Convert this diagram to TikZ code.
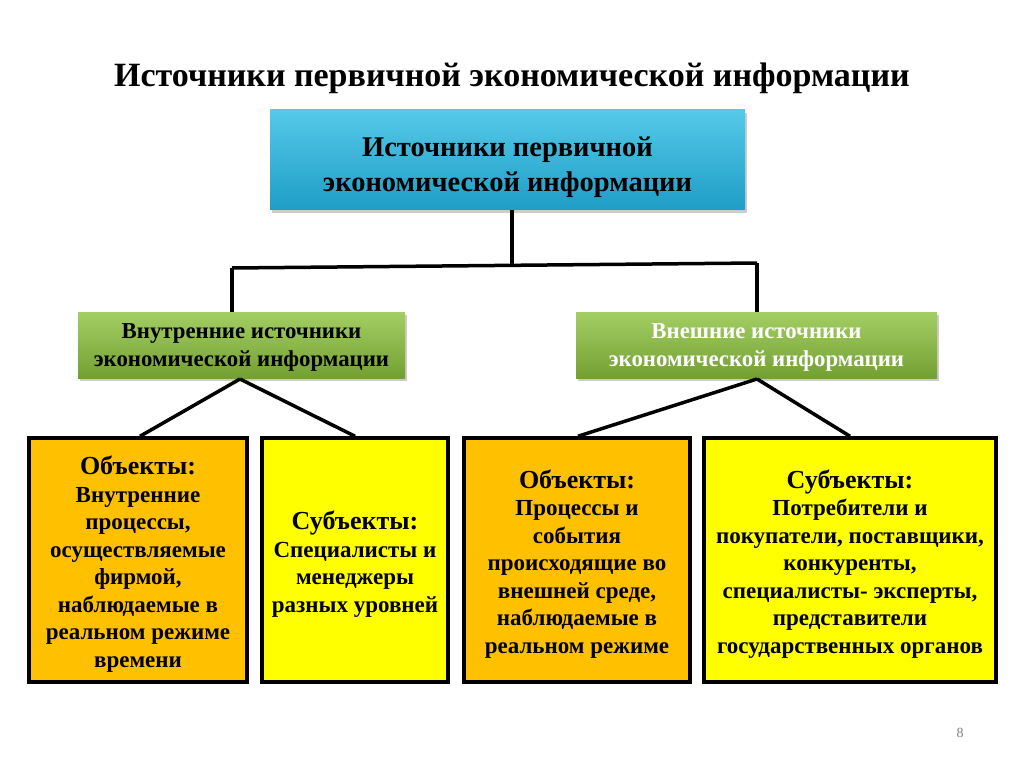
\documentclass[tikz,border=0pt]{standalone}
\usepackage{fontspec}
\setmainfont{Liberation Serif}
\usetikzlibrary{shadows}
\definecolor{bluetop}{HTML}{55C9E9}
\definecolor{bluebot}{HTML}{1E9DC6}
\definecolor{greentop}{HTML}{A3CE63}
\definecolor{greenbot}{HTML}{74A033}
\definecolor{orangefill}{HTML}{FFC000}
\definecolor{yellowfill}{HTML}{FFFF00}
\newcommand\boxhead{\fontsize{26}{27.5}\selectfont}
\begin{document}
\begin{tikzpicture}[x=1pt,y=-1pt,
  topbox/.style={draw=none,top color=bluetop,bottom color=bluebot,drop shadow={shadow xshift=2pt,shadow yshift=-3pt,opacity=0.4},inner sep=0pt},
  toptext/.style={yshift=-7pt,font=\bfseries\fontsize{28.5}{35}\selectfont,align=center,inner sep=0pt},
  greenbox/.style={draw=none,top color=greentop,bottom color=greenbot,drop shadow={shadow xshift=2pt,shadow yshift=-3pt,opacity=0.4},inner sep=0pt},
  greentext/.style={yshift=-2pt,font=\bfseries\fontsize{22.8}{28}\selectfont,align=center,inner sep=0pt},
  leafbox/.style={draw=black,line width=3.5pt,inner sep=0pt},
  leaftext/.style={yshift=-4pt,font=\bfseries\fontsize{23}{27.5}\selectfont,align=center,inner sep=0pt},
  conn/.style={line width=3.5pt,black}
]
\useasboundingbox (0,0) rectangle (1024,767);
\fill[white] (0,0) rectangle (1024,767);

\node[font=\bfseries\fontsize{34}{38}\selectfont] (title) at (512,78) {Источники первичной экономической информации};

\node[topbox,minimum width=475pt,minimum height=100pt,
  label={[toptext]center:Источники первичной\\экономической информации}] (top) at (507.5,160) {};

\node[greenbox,minimum width=327pt,minimum height=66pt,
  label={[greentext]center:Внутренние источники\\экономической информации}] (gl) at (241.5,345) {};
\node[greenbox,minimum width=361pt,minimum height=66pt,
  label={[greentext,text=white]center:Внешние источники\\экономической информации}] (gr) at (756.5,345) {};

\node[leafbox,fill=orangefill,minimum width=218pt,minimum height=244pt,
  label={[leaftext]center:{\boxhead Объекты:}\\Внутренние\\процессы,\\осуществляемые\\фирмой,\\наблюдаемые в\\реальном режиме\\времени}] (b1) at (138,560) {};
\node[leafbox,fill=yellowfill,minimum width=186pt,minimum height=244pt,
  label={[leaftext]center:{\boxhead Субъекты:}\\Специалисты и\\менеджеры\\разных уровней}] (b2) at (355,560) {};
\node[leafbox,fill=orangefill,minimum width=226pt,minimum height=244pt,
  label={[leaftext]center:{\boxhead Объекты:}\\Процессы и\\события\\происходящие во\\внешней среде,\\наблюдаемые в\\реальном режиме}] (b3) at (577,560) {};
\node[leafbox,fill=yellowfill,minimum width=292pt,minimum height=244pt,
  label={[leaftext]center:{\boxhead Субъекты:}\\Потребители и\\покупатели, поставщики,\\конкуренты,\\специалисты- эксперты,\\представители\\государственных органов}] (b4) at (850,560) {};

\coordinate (jc) at (512,266);
\coordinate (jl) at (232,268);
\coordinate (jr) at (757,263);
\draw[conn] (top.south -| jc) -- (jc);
\draw[conn] (jl) -- (jr);
\draw[conn] (jl) -- (jl |- gl.north);
\draw[conn] (jr) -- (jr |- gr.north);

\coordinate (gla) at (240,379);
\coordinate (gra) at (757,379);
\draw[conn] (gla) -- ([xshift=2pt]b1.north);
\draw[conn] (gla) -- (b2.north);
\draw[conn] (gra) -- ([xshift=1pt]b3.north);
\draw[conn] (gra) -- (b4.north);

\node[text=gray,font=\fontsize{14}{16}\selectfont] (pg) at (960,733) {8};
\end{tikzpicture}
\end{document}
